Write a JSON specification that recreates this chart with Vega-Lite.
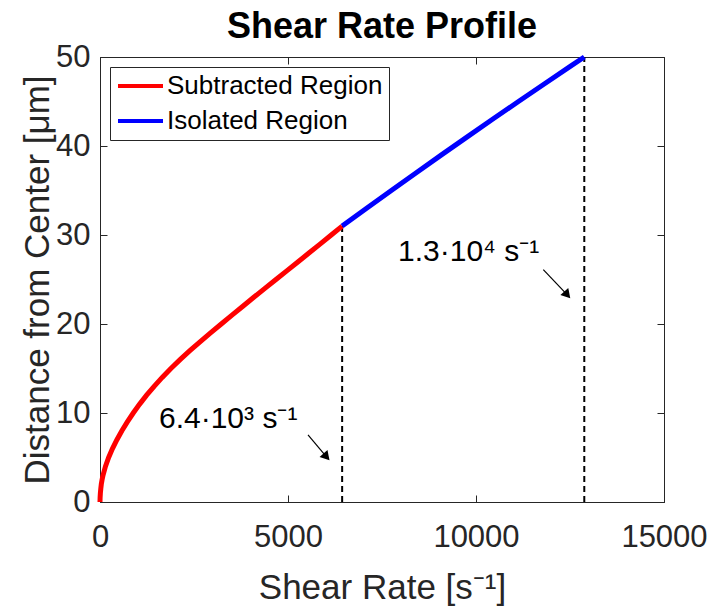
{
  "$schema": "https://vega.github.io/schema/vega-lite/v6.json",
  "width": 564,
  "height": 445,
  "autosize": {"type": "none"},
  "padding": {"left": 100, "top": 57, "right": 46, "bottom": 111},
  "background": "white",
  "title": {"text": "Shear Rate Profile", "fontSize": 36, "font": "Liberation Sans", "fontWeight": "bold", "color": "black", "anchor": "middle", "offset": -5},
  "config": {
    "view": {"stroke": "#262626", "strokeWidth": 1},
    "axis": {"grid": false, "domainColor": "#262626", "tickColor": "#262626", "labelColor": "#262626", "titleColor": "#262626", "labelFont": "Liberation Sans", "titleFont": "Liberation Sans", "labelFontSize": 31, "titleFontSize": 35, "titleFontWeight": "normal", "tickSize": -7, "tickWidth": 1},
    "legend": {"orient": "none", "legendX": 10, "legendY": 10, "fillColor": "white", "strokeColor": "#262626", "padding": 6, "symbolType": "stroke", "symbolStrokeWidth": 4, "symbolSize": 2025, "clipHeight": 26, "labelFont": "Liberation Sans", "labelFontSize": 26, "labelColor": "black", "rowPadding": 9, "labelOffset": 2, "labelLimit": 400}
  },
  "datasets": {
    "curve": [
      {"rate": 0, "dist": 0, "region": "Subtracted Region"},
      {"rate": 3, "dist": 0.5, "region": "Subtracted Region"},
      {"rate": 10, "dist": 1, "region": "Subtracted Region"},
      {"rate": 21, "dist": 1.5, "region": "Subtracted Region"},
      {"rate": 35, "dist": 2, "region": "Subtracted Region"},
      {"rate": 55, "dist": 2.5, "region": "Subtracted Region"},
      {"rate": 80, "dist": 3, "region": "Subtracted Region"},
      {"rate": 145, "dist": 4, "region": "Subtracted Region"},
      {"rate": 230, "dist": 5, "region": "Subtracted Region"},
      {"rate": 332, "dist": 6, "region": "Subtracted Region"},
      {"rate": 450, "dist": 7, "region": "Subtracted Region"},
      {"rate": 582, "dist": 8, "region": "Subtracted Region"},
      {"rate": 727, "dist": 9, "region": "Subtracted Region"},
      {"rate": 884, "dist": 10, "region": "Subtracted Region"},
      {"rate": 1055, "dist": 11, "region": "Subtracted Region"},
      {"rate": 1240, "dist": 12, "region": "Subtracted Region"},
      {"rate": 1440, "dist": 13, "region": "Subtracted Region"},
      {"rate": 1655, "dist": 14, "region": "Subtracted Region"},
      {"rate": 1885, "dist": 15, "region": "Subtracted Region"},
      {"rate": 2130, "dist": 16, "region": "Subtracted Region"},
      {"rate": 2390, "dist": 17, "region": "Subtracted Region"},
      {"rate": 2660, "dist": 18, "region": "Subtracted Region"},
      {"rate": 2940, "dist": 19, "region": "Subtracted Region"},
      {"rate": 3225, "dist": 20, "region": "Subtracted Region"},
      {"rate": 3510, "dist": 21, "region": "Subtracted Region"},
      {"rate": 3800, "dist": 22, "region": "Subtracted Region"},
      {"rate": 4090, "dist": 23, "region": "Subtracted Region"},
      {"rate": 4385, "dist": 24, "region": "Subtracted Region"},
      {"rate": 4680, "dist": 25, "region": "Subtracted Region"},
      {"rate": 4975, "dist": 26, "region": "Subtracted Region"},
      {"rate": 5270, "dist": 27, "region": "Subtracted Region"},
      {"rate": 5565, "dist": 28, "region": "Subtracted Region"},
      {"rate": 5860, "dist": 29, "region": "Subtracted Region"},
      {"rate": 6150, "dist": 30, "region": "Subtracted Region"},
      {"rate": 6440, "dist": 31, "region": "Subtracted Region"},
      {"rate": 6440, "dist": 31, "region": "Isolated Region"},
      {"rate": 7091, "dist": 33, "region": "Isolated Region"},
      {"rate": 7748, "dist": 35, "region": "Isolated Region"},
      {"rate": 8411, "dist": 37, "region": "Isolated Region"},
      {"rate": 9081, "dist": 39, "region": "Isolated Region"},
      {"rate": 9757, "dist": 41, "region": "Isolated Region"},
      {"rate": 10440, "dist": 43, "region": "Isolated Region"},
      {"rate": 11129, "dist": 45, "region": "Isolated Region"},
      {"rate": 11824, "dist": 47, "region": "Isolated Region"},
      {"rate": 12526, "dist": 49, "region": "Isolated Region"},
      {"rate": 12880, "dist": 50, "region": "Isolated Region"}
    ],
    "markers": [
      {"rate": 6440, "dist": 31, "base": 0},
      {"rate": 12880, "dist": 50, "base": 0}
    ],
    "notes": [
      {"rate": 1569, "dist": 8.37, "label": "6.4·10³ s⁻¹"},
      {"rate": 7926, "dist": 27.1, "label": "1.3·10⁴ s⁻¹"}
    ],
    "arrows": [
      {"rate": 5532, "dist": 7.53, "rate2": 6024, "dist2": 5.07},
      {"rate": 11790, "dist": 26.1, "rate2": 12428, "dist2": 23.27}
    ]
  },
  "layer": [
    {
      "data": {"name": "markers"},
      "mark": {"type": "rule", "color": "black", "strokeWidth": 2, "strokeDash": [6, 4]},
      "encoding": {
        "x": {"field": "rate", "type": "quantitative", "scale": {"domain": [0, 15000], "nice": false}, "axis": {"orient": "bottom", "values": [0, 5000, 10000, 15000], "format": "d", "labelPadding": 27, "title": "Shear Rate [s⁻¹]", "titlePadding": 18, "labelFlush": false}},
        "y": {"field": "base", "type": "quantitative", "scale": {"domain": [0, 50], "nice": false}, "axis": {"orient": "left", "values": [0, 10, 20, 30, 40, 50], "labelPadding": 17, "title": "Distance from Center [μm]", "titlePadding": 0, "labelFlush": false}},
        "y2": {"field": "dist"}
      }
    },
    {
      "data": {"name": "arrows"},
      "mark": {"type": "rule", "color": "black", "strokeWidth": 1.2},
      "encoding": {
        "x": {"field": "rate", "type": "quantitative", "axis": null},
        "y": {"field": "dist", "type": "quantitative", "axis": null},
        "x2": {"field": "rate2"},
        "y2": {"field": "dist2"}
      }
    },
    {
      "data": {"name": "arrows"},
      "mark": {"type": "point", "shape": "triangle-right", "filled": true, "color": "black", "opacity": 1, "size": 110, "angle": 49},
      "encoding": {
        "x": {"field": "rate2", "type": "quantitative", "axis": null},
        "y": {"field": "dist2", "type": "quantitative", "axis": null}
      }
    },
    {
      "data": {"name": "notes"},
      "mark": {"type": "text", "align": "left", "baseline": "alphabetic", "font": "Liberation Sans", "fontSize": 30, "color": "black"},
      "encoding": {
        "x": {"field": "rate", "type": "quantitative", "axis": null},
        "y": {"field": "dist", "type": "quantitative", "axis": null},
        "text": {"field": "label"}
      }
    },
    {
      "data": {"name": "curve"},
      "mark": {"type": "line", "strokeWidth": 5},
      "encoding": {
        "x": {"field": "rate", "type": "quantitative", "axis": {"orient": "top", "values": [0, 5000, 10000, 15000], "labels": false, "title": null, "domain": false}},
        "y": {"field": "dist", "type": "quantitative", "axis": {"orient": "right", "values": [0, 10, 20, 30, 40, 50], "labels": false, "title": null, "domain": false}},
        "color": {"field": "region", "type": "nominal", "scale": {"domain": ["Subtracted Region", "Isolated Region"], "range": ["#FF0000", "#0000FF"]}, "legend": {"title": null}},
        "order": {"field": "dist", "type": "quantitative"}
      }
    }
  ]
}
